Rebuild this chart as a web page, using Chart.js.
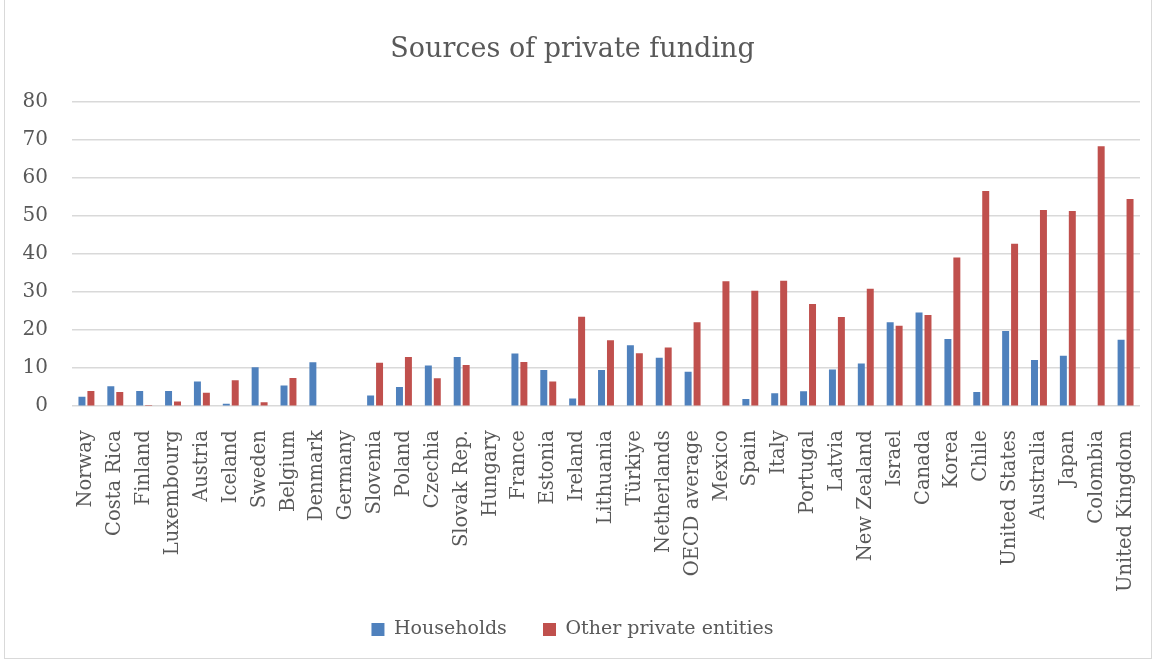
<!DOCTYPE html>
<html>
<head>
<meta charset="utf-8">
<script src="https://cdn.jsdelivr.net/npm/chart.js@4"></script>
<style>
  html, body { margin: 0; padding: 0; background: #fff; }
  #wrap { position: absolute; left: 4px; top: 0; width: 1148px; height: 659px; border: 1px solid #d9d9d9; border-top: none; box-sizing: border-box; }
  canvas { display: block; }
</style>
</head>
<body>
<div id="wrap"><canvas id="c"></canvas></div>
<script>
// Sources of private funding, % share by source
const countries = ['Norway', 'Costa Rica', 'Finland', 'Luxembourg', 'Austria', 'Iceland', 'Sweden', 'Belgium',
  'Denmark', 'Germany', 'Slovenia', 'Poland', 'Czechia', 'Slovak Rep.', 'Hungary', 'France', 'Estonia',
  'Ireland', 'Lithuania', 'Türkiye', 'Netherlands', 'OECD average', 'Mexico', 'Spain', 'Italy', 'Portugal',
  'Latvia', 'New Zealand', 'Israel', 'Canada', 'Korea', 'Chile', 'United States', 'Australia', 'Japan',
  'Colombia', 'United Kingdom'];

const households = [2.5, 5.2, 4.0, 4.0, 6.5, 0.6, 10.2, 5.4, 11.5, 0, 2.8, 5.0, 10.7, 12.9, 0, 13.8, 9.5,
  2.0, 9.5, 16.0, 12.7, 9.0, 0.2, 1.9, 3.4, 3.9, 9.6, 11.2, 22.0, 24.6, 17.6, 3.7, 19.7, 12.1, 13.2, 0, 17.4];

const otherPrivate = [4.0, 3.7, 0.3, 1.2, 3.5, 6.8, 1.0, 7.4, 0, 0, 11.4, 12.9, 7.3, 10.8, 0, 11.6, 6.5,
  23.5, 17.3, 13.9, 15.4, 22.0, 32.8, 30.3, 32.9, 26.8, 23.4, 30.8, 21.1, 23.9, 39.0, 56.5, 42.6, 51.5, 51.2,
  68.2, 54.4];

const yTicks = [0, 10, 20, 30, 40, 50, 60, 70, 80];

const SERIF = "'DejaVu Serif', 'Liberation Serif', serif";
const TEXT = '#595959';

new Chart(document.getElementById('c').getContext('2d'), {
  type: 'bar',
  data: {
    labels: countries,
    datasets: [
      { label: 'Households', data: households, backgroundColor: '#4F81BD' },
      { label: 'Other private entities', data: otherPrivate, backgroundColor: '#C0504D' }
    ]
  },
  options: {
    responsive: true, maintainAspectRatio: false, animation: false,
    layout: { padding: { left: 0, right: 11, top: 14, bottom: 9 } },
    datasets: { bar: { categoryPercentage: 0.62, barPercentage: 0.78 } },
    plugins: {
      title: {
        display: true, text: 'Sources of private funding', color: TEXT,
        font: { family: SERIF, size: 27, weight: 'normal' }, padding: { top: 20, bottom: 35 }
      },
      legend: {
        position: 'bottom',
        labels: {
          color: TEXT, font: { family: SERIF, size: 19 }, boxWidth: 13, boxHeight: 13,
          padding: 12,
          // small vertical padding, but keep the wide gap between the two items
          generateLabels: chart => {
            const items = Chart.defaults.plugins.legend.labels.generateLabels(chart);
            items.forEach((it, i) => { if (i < items.length - 1) it.text += '    '; });
            return items;
          }
        }
      },
      tooltip: { enabled: false }
    },
    scales: {
      x: {
        grid: { display: false }, border: { display: false },
        afterFit: axis => { axis.paddingRight = 0; },
        ticks: { color: TEXT, font: { family: SERIF, size: 19.5 }, minRotation: 90, maxRotation: 90, autoSkip: false, padding: 16 }
      },
      y: {
        min: 0, max: 80,
        afterBuildTicks: axis => { axis.ticks = yTicks.map(v => ({ value: v })); },
        afterFit: axis => { axis.width = 67; },
        grid: { color: '#d9d9d9', lineWidth: 1.5, drawTicks: false }, border: { display: false },
        ticks: { color: TEXT, font: { family: SERIF, size: 20 }, padding: 24 }
      }
    }
  }
});
</script>
</body>
</html>
